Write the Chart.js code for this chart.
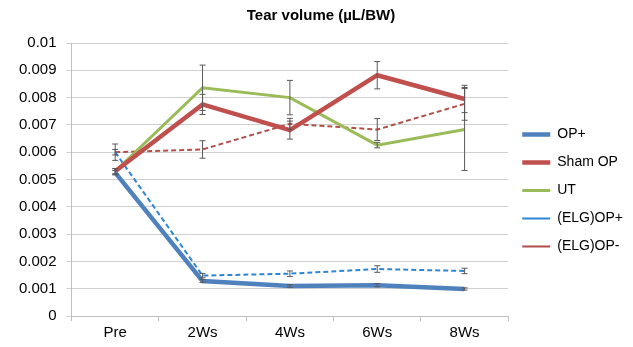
<!DOCTYPE html>
<html>
<head>
<meta charset="utf-8">
<script src="https://cdn.jsdelivr.net/npm/chart.js@4"></script>
<style>
  html, body { margin: 0; padding: 0; background: #fff; }
  #wrap { width: 633px; height: 347px; }
</style>
</head>
<body>
<div id="wrap"><canvas id="chart" width="633" height="347"></canvas></div>
<script>
// Kategorier og serier
const categories = ["Pre", "2Ws", "4Ws", "6Ws", "8Ws"];
const opPlus = [0.00525, 0.00128, 0.00110, 0.00113, 0.00099];
const shamOp = [0.00530, 0.00775, 0.00681, 0.00882, 0.00795];
const ut = [0.00530, 0.00836, 0.00800, 0.00626, 0.00683];
const elgOpPlus = [0.00600, 0.00148, 0.00155, 0.00172, 0.00165];
const elgOpMinus = [0.00600, 0.00610, 0.00704, 0.00683, 0.00777];

// Fejlsøjler (+/-)
const opPlusErr = [0.00008, 0.00005, 0.00005, 0.00006, 0.00004];
const shamOpErr = [0.0001, 0.00037, 0.00033, 0.0005, 0.0005];
const utErr = [0.0001, 0.00083, 0.00063, 0.0001, 0.0015];
const elgOpPlusErr = [0.0001, 0.00008, 0.0001, 0.00012, 0.0001];
const elgOpMinusErr = [0.0003, 0.00032, 0.0002, 0.0004, 0.0006];

const yTicks = { min: 0, max: 0.01, step: 0.001 };

// Tegn fejlsøjler
const errorBars = {
  id: "errorBars",
  afterDatasetsDraw(chart) {
    const ctx = chart.ctx;
    const y = chart.scales.y;
    ctx.save();
    ctx.strokeStyle = "#595959";
    ctx.lineWidth = 1;
    chart.data.datasets.forEach((ds, i) => {
      const meta = chart.getDatasetMeta(i);
      meta.data.forEach((pt, j) => {
        const e = ds.errors[j];
        const top = y.getPixelForValue(ds.data[j] + e);
        const bot = y.getPixelForValue(ds.data[j] - e);
        ctx.beginPath();
        ctx.moveTo(pt.x, top);
        ctx.lineTo(pt.x, bot);
        ctx.moveTo(pt.x - 3, top);
        ctx.lineTo(pt.x + 3, top);
        ctx.moveTo(pt.x - 3, bot);
        ctx.lineTo(pt.x + 3, bot);
        ctx.stroke();
      });
    });
    ctx.restore();
  }
};

new Chart(document.getElementById("chart").getContext("2d"), {
  type: "line",
  data: {
    labels: categories,
    datasets: [
      { label: "OP+", data: opPlus, errors: opPlusErr, borderColor: "#4F81BD", borderWidth: 4.5 },
      { label: "Sham OP", data: shamOp, errors: shamOpErr, borderColor: "#C0504D", borderWidth: 4.5 },
      { label: "UT", data: ut, errors: utErr, borderColor: "#9BBB59", borderWidth: 3 },
      { label: "(ELG)OP+", data: elgOpPlus, errors: elgOpPlusErr, borderColor: "#2F86D0", borderWidth: 2, borderDash: [5, 3] },
      { label: "(ELG)OP-", data: elgOpMinus, errors: elgOpMinusErr, borderColor: "#B0504C", borderWidth: 2, borderDash: [5, 3] }
    ]
  },
  options: {
    responsive: false,
    animation: false,
    elements: { point: { radius: 0 }, line: { tension: 0, fill: false } },
    layout: { padding: { left: 9, right: 0, bottom: 2 } },
    plugins: {
      title: {
        display: true,
        text: "Tear volume (µL/BW)",
        color: "#000",
        font: { family: "Liberation Sans", size: 15, weight: "bold" },
        padding: { top: 7, bottom: 18 }
      },
      legend: {
        position: "right",
        title: { display: true, text: " ", font: { size: 10 }, padding: { top: 12, bottom: 12 } },
        labels: {
          usePointStyle: true,
          pointStyle: "line",
          pointStyleWidth: 28,
          color: "#000",
          padding: 14,
          font: { family: "Liberation Sans", size: 14 }
        }
      },
      tooltip: { enabled: false }
    },
    scales: {
      x: {
        offset: true,
        grid: { display: true, drawOnChartArea: false, offset: true, tickLength: 5, color: "#BFBFBF" },
        border: { color: "#BFBFBF" },
        ticks: { color: "#000", font: { family: "Liberation Sans", size: 15 }, padding: 3 }
      },
      y: {
        min: yTicks.min,
        max: yTicks.max,
        grid: { color: "#D0D0D0", tickLength: 5, drawTicks: true },
        border: { color: "#BFBFBF" },
        ticks: {
          stepSize: yTicks.step,
          color: "#000",
          font: { family: "Liberation Sans", size: 15 },
          padding: 10,
          callback: v => String(+v.toFixed(3))
        }
      }
    }
  },
  plugins: [errorBars]
});
</script>
</body>
</html>
